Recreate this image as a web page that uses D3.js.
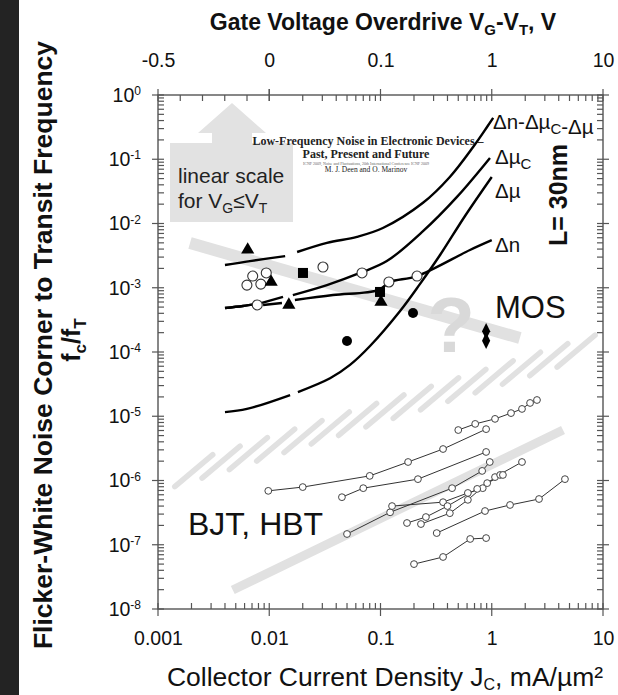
<!DOCTYPE html>
<html>
<head>
<meta charset="utf-8">
<script src="https://cdn.jsdelivr.net/npm/d3@7"></script>
<style>
body { margin: 0; background: #fff; }
svg { display: block; font-family: "Liberation Sans", Arial, sans-serif; }
</style>
</head>
<body>
<div class="chart"></div>
<script>
// ---- data ----
const xTicks = [0.001, 0.01, 0.1, 1, 10];
const xTickLabels = ['0.001', '0.01', '0.1', '1', '10'];
const yExps = [0, -1, -2, -3, -4, -5, -6, -7, -8];
const topTicks = [-0.5, 0, 0.1, 1, 10];
const topTickLabels = ['-0.5', '0', '0.1', '1', '10'];
const topLinTicks = [-0.5, -0.4, -0.3, -0.2, -0.1, 0];

// MOS model curves, each one a list of drawn pieces
const curveAll = [
  [[0.0040, 2.26e-3], [0.0067, 2.6e-3], [0.0139, 3.1e-3]],
  [[0.0178, 3.6e-3], [0.033, 5.0e-3], [0.0615, 6.2e-3], [0.105, 8.5e-3], [0.241, 0.021], [0.42, 0.053], [0.68, 0.155], [0.91, 0.32], [1.03, 0.44]]
];
const curveMuC = [
  [[0.0040, 4.84e-4], [0.0058, 5.2e-4], [0.0078, 5.6e-4]],
  [[0.0086, 5.8e-4], [0.0133, 7.2e-4]],
  [[0.0163, 7.7e-4], [0.033, 1.1e-3], [0.0654, 1.7e-3], [0.114, 2.6e-3], [0.241, 7.6e-3], [0.487, 0.026], [0.964, 0.105]]
];
const curveMu = [
  [[0.0040, 1.16e-5], [0.0063, 1.3e-5], [0.0154, 2.14e-5]],
  [[0.0181, 2.38e-5], [0.0352, 3.9e-5], [0.0532, 6.3e-5], [0.0805, 1.24e-4], [0.150, 4.35e-4], [0.226, 1.14e-3], [0.343, 3.23e-3], [0.575, 0.0131], [1.0, 0.053]]
];
const curveN = [
  [[0.0040, 4.84e-4], [0.0058, 5.2e-4], [0.0078, 5.6e-4]],
  [[0.0088, 5.4e-4], [0.013, 5.8e-4]],
  [[0.017, 6.45e-4], [0.0374, 7.7e-4], [0.095, 9.2e-4], [0.122, 1.23e-3], [0.213, 1.52e-3], [0.637, 3.87e-3], [1.0, 5.5e-3]]
];

// MOS measured points
const mosTriangles = [[0.0064, 3.9e-3], [0.0104, 1.23e-3], [0.0150, 5.4e-4], [0.101, 6.0e-4]];
const mosSquares = [[0.0201, 1.7e-3], [0.099, 8.6e-4]];
const mosOpen = [[0.0063, 1.10e-3], [0.0071, 1.52e-3], [0.0084, 1.14e-3], [0.0094, 1.70e-3], [0.0078, 5.4e-4],
  [0.0304, 2.1e-3], [0.0682, 1.7e-3], [0.119, 1.23e-3], [0.213, 1.52e-3]];
const mosDots = [[0.050, 1.48e-4], [0.196, 4.05e-4]];
const mosDiamonds = [[0.89, 2.1e-4], [0.89, 1.5e-4]];

// BJT / HBT series
const bjtSeries = [
  [[0.50, 6.1e-6], [0.71, 7.6e-6], [1.07, 9.1e-6], [1.49, 1.12e-5], [1.87, 1.3e-5], [2.21, 1.61e-5], [2.55, 1.79e-5]],
  [[0.0098, 6.9e-7], [0.020, 7.9e-7], [0.080, 1.18e-6], [0.177, 1.94e-6], [0.365, 3.09e-6], [0.89, 6.3e-6]],
  [[0.045, 5.5e-7], [0.070, 7.6e-7], [0.217, 1.05e-6], [0.89, 2.78e-6]],
  [[0.050, 1.47e-7], [0.122, 3.2e-7], [0.44, 7.6e-7], [0.82, 1.41e-6], [0.96, 1.94e-6]],
  [[0.127, 4.0e-7], [0.365, 4.6e-7], [0.61, 6.4e-7], [0.83, 7.6e-7], [1.07, 1.13e-6], [1.87, 1.94e-6]],
  [[0.173, 2.18e-7], [0.256, 2.7e-7], [0.40, 4.0e-7], [0.74, 7.4e-7], [1.19, 1.22e-6]],
  [[0.231, 2.1e-7], [0.42, 3.1e-7], [0.61, 5.0e-7], [0.91, 9.1e-7], [1.26, 1.22e-6]],
  [[0.32, 1.52e-7], [0.87, 3.35e-7], [1.46, 4.16e-7], [2.66, 5.15e-7], [4.55, 1.05e-6]],
  [[0.20, 5.0e-8], [0.365, 6.45e-8], [0.64, 1.23e-7], [0.89, 1.27e-7]]
];

// grey guide bands (end points)
const mosBand = [[0.00194, 4.97e-3], [1.79, 1.65e-4]];
const bjtBand = [[0.0047, 1.98e-8], [4.37, 6.1e-6]];
const hatchBand = [[0.00158, 1.22e-6], [7.6, 1.2e-4]];

// ---- setup ----
const width = 618, height = 695;
const svg = d3.select('.chart').append('svg')
  .attr('width', width)
  .attr('height', height);

svg.append('rect').attr('width', width).attr('height', height).attr('fill', '#fff');
svg.append('rect').attr('width', 19).attr('height', height).attr('fill', '#232323');

const x = d3.scaleLog().domain([0.001, 10]).range([158, 603]);
const y = d3.scaleLog().domain([1e-8, 1]).range([609, 95]);

// top axis: linear below threshold, log above (0 sits where 0.01 is)
const topLin = d3.scaleLinear().domain([-0.5, 0]).range([x(0.001), x(0.01)]);
function topScale(v) { return v <= 0 ? topLin(v) : x(v); }
topScale.copy = () => topScale;
topScale.range = () => x.range();
topScale.domain = () => [-0.5, 10];

const isMajor = d => Math.abs(Math.log10(d) - Math.round(Math.log10(d))) < 1e-6;
const grey = '#e1e1e1';

// ---- grey decorations ----
const band = (pts, w) => svg.append('line')
  .attr('x1', x(pts[0][0])).attr('y1', y(pts[0][1]))
  .attr('x2', x(pts[1][0])).attr('y2', y(pts[1][1]))
  .attr('stroke', grey).attr('stroke-width', w);

band(mosBand, 12);
band(bjtBand, 9);

// hatched band
const hx0 = x(hatchBand[0][0]), hy0 = y(hatchBand[0][1]);
const hx1 = x(hatchBand[1][0]), hy1 = y(hatchBand[1][1]);
const nStripes = 15;
for (let i = 0; i < nStripes; i++) {
  const t = (i + 0.5) / nStripes;
  const cx = hx0 + t * (hx1 - hx0), cy = hy0 + t * (hy1 - hy0);
  svg.append('line')
    .attr('x1', cx - 19).attr('y1', cy + 16)
    .attr('x2', cx + 19).attr('y2', cy - 16)
    .attr('stroke', grey).attr('stroke-width', 5.5)
    .attr('stroke-linecap', 'round');
}

// question mark on the MOS band
svg.append('text')
  .attr('x', 451).attr('y', 352)
  .attr('text-anchor', 'middle')
  .attr('font-size', 78).attr('font-weight', 'bold')
  .attr('fill', '#d9d9d9')
  .text('?');

// arrow with "linear scale" note
svg.append('path')
  .attr('d', 'M232,103 L266,133 L252,133 L252,143 L293,143 L293,222 L170,222 L170,143 L212,143 L212,133 L198,133 Z')
  .attr('fill', '#e2e2e2');

svg.append('text').attr('x', 178).attr('y', 183)
  .attr('font-size', 21).attr('fill', '#222').text('linear scale');
const ls = svg.append('text').attr('x', 178).attr('y', 208)
  .attr('font-size', 21).attr('fill', '#222');
ls.append('tspan').text('for V');
ls.append('tspan').attr('dy', 5).attr('font-size', 14).text('G');
ls.append('tspan').attr('dy', -5).text('\u2264V');
ls.append('tspan').attr('dy', 5).attr('font-size', 14).text('T');

// paper citation inset
const cite = svg.append('g').attr('font-family', '"Liberation Serif", "Times New Roman", serif')
  .attr('text-anchor', 'middle').attr('fill', '#222');
cite.append('text').attr('x', 368).attr('y', 145).attr('font-size', 12).attr('font-weight', 'bold')
  .text('Low-Frequency Noise in Electronic Devices \u2013');
cite.append('text').attr('x', 366).attr('y', 158).attr('font-size', 12).attr('font-weight', 'bold')
  .text('Past, Present and Future');
cite.append('text').attr('x', 366).attr('y', 165).attr('font-size', 4).attr('fill', '#666')
  .text('ICNF 2009, Noise and Fluctuations, 20th International Conference ICNF 2009');
cite.append('text').attr('x', 366).attr('y', 172).attr('font-size', 7.5)
  .text('M. J. Deen and O. Marinov');

// ---- frame and ticks ----
svg.append('rect')
  .attr('x', x(0.001)).attr('y', y(1))
  .attr('width', x(10) - x(0.001)).attr('height', y(1e-8) - y(1))
  .attr('fill', 'none').attr('stroke', '#555').attr('stroke-width', 1.4);

const tk = svg.append('g').attr('stroke', '#555').attr('stroke-width', 1.2);
const x0 = x(0.001), x1 = x(10), yT = y(1), yB = y(1e-8);

x.ticks().forEach(d => {
  const m = isMajor(d), px = x(d);
  tk.append('line').attr('x1', px).attr('x2', px).attr('y1', yB - 6).attr('y2', m ? yB + 7 : yB);
  if (d >= 0.01) {
    tk.append('line').attr('x1', px).attr('x2', px).attr('y1', m ? yT - 6 : yT).attr('y2', yT + 6);
  }
});
topLinTicks.forEach(d => {
  const px = topScale(d), m = (d === -0.5 || d === 0);
  tk.append('line').attr('x1', px).attr('x2', px).attr('y1', m ? yT - 6 : yT).attr('y2', yT + 6);
});
y.ticks().forEach(d => {
  const m = isMajor(d), py = y(d);
  tk.append('line').attr('y1', py).attr('y2', py).attr('x1', m ? x0 - 6 : x0).attr('x2', x0 + 6);
  tk.append('line').attr('y1', py).attr('y2', py).attr('x1', x1 - 6).attr('x2', m ? x1 + 6 : x1);
});

// ---- axis labels ----
const styleAxis = g => {
  g.select('.domain').remove();
  g.attr('font-size', 19.5).attr('font-family', '"Liberation Sans", Arial, sans-serif');
  g.selectAll('text').attr('fill', '#111');
};

svg.append('g').attr('transform', `translate(0,${yB})`)
  .call(d3.axisBottom(x).tickValues(xTicks).tickFormat((d, i) => xTickLabels[i]).tickSize(0).tickPadding(22))
  .call(styleAxis);

svg.append('g').attr('transform', `translate(0,${yT})`)
  .call(d3.axisTop(topScale).tickValues(topTicks).tickFormat((d, i) => topTickLabels[i]).tickSize(0).tickPadding(28))
  .call(styleAxis);

svg.append('g').attr('transform', `translate(${x0},0)`)
  .call(d3.axisLeft(y).tickValues(yExps.map(e => Math.pow(10, e))).tickFormat(() => '').tickSize(0).tickPadding(17))
  .call(styleAxis)
  .selectAll('.tick text')
  .each(function (d, i) {
    const t = d3.select(this);
    t.append('tspan').text('10');
    t.append('tspan').attr('dy', '-0.55em').attr('font-size', 12).text(yExps[i]);
  });

// axis titles
const tt = svg.append('text').attr('x', 383).attr('y', 30)
  .attr('text-anchor', 'middle').attr('font-size', 23).attr('font-weight', 'bold').attr('fill', '#111');
tt.append('tspan').text('Gate Voltage Overdrive V');
tt.append('tspan').attr('dy', 5).attr('font-size', 15).text('G');
tt.append('tspan').attr('dy', -5).text('-V');
tt.append('tspan').attr('dy', 5).attr('font-size', 15).text('T');
tt.append('tspan').attr('dy', -5).text(', V');

const bt = svg.append('text').attr('x', 385).attr('y', 686)
  .attr('text-anchor', 'middle').attr('font-size', 26.5).attr('fill', '#111');
bt.append('tspan').text('Collector Current Density J');
bt.append('tspan').attr('dy', 4).attr('font-size', 16).text('C');
bt.append('tspan').attr('dy', -4).text(', mA/\u00b5m\u00b2');

svg.append('text')
  .attr('transform', 'translate(52,345) rotate(-90)')
  .attr('text-anchor', 'middle').attr('font-size', 26.5).attr('font-weight', 'bold').attr('fill', '#111')
  .text('Flicker-White Noise Corner to Transit Frequency');
const yl2 = svg.append('text')
  .attr('transform', 'translate(80,340) rotate(-90)')
  .attr('text-anchor', 'middle').attr('font-size', 25).attr('font-weight', 'bold').attr('fill', '#111');
yl2.append('tspan').text('f');
yl2.append('tspan').attr('dy', 6).attr('font-size', 17).text('c');
yl2.append('tspan').attr('dy', -6).text('/f');
yl2.append('tspan').attr('dy', 6).attr('font-size', 17).text('T');

// ---- BJT data ----
const thin = d3.line().x(d => x(d[0])).y(d => y(d[1]));
bjtSeries.forEach(s => {
  svg.append('path').attr('d', thin(s))
    .attr('fill', 'none').attr('stroke', '#333').attr('stroke-width', 1);
});
bjtSeries.forEach(s => {
  svg.append('g').selectAll('circle').data(s).join('circle')
    .attr('cx', d => x(d[0])).attr('cy', d => y(d[1])).attr('r', 3.4)
    .attr('fill', '#fff').attr('stroke', '#444').attr('stroke-width', 1);
});

// ---- MOS curves ----
const smooth = d3.line().x(d => x(d[0])).y(d => y(d[1])).curve(d3.curveCatmullRom.alpha(0.5));
[curveAll, curveMuC, curveMu, curveN].forEach(c => {
  c.forEach(seg => {
    svg.append('path').attr('d', smooth(seg))
      .attr('fill', 'none').attr('stroke', '#000').attr('stroke-width', 2.4);
  });
});

// ---- MOS points ----
svg.append('g').selectAll('circle').data(mosOpen).join('circle')
  .attr('cx', d => x(d[0])).attr('cy', d => y(d[1])).attr('r', 5)
  .attr('fill', '#fff').attr('stroke', '#333').attr('stroke-width', 1.1);
svg.append('g').selectAll('circle').data(mosDots).join('circle')
  .attr('cx', d => x(d[0])).attr('cy', d => y(d[1])).attr('r', 5).attr('fill', '#000');
svg.append('g').selectAll('path').data(mosTriangles).join('path')
  .attr('transform', d => `translate(${x(d[0])},${y(d[1])})`)
  .attr('d', d3.symbol(d3.symbolTriangle, 75)).attr('fill', '#000');
svg.append('g').selectAll('rect').data(mosSquares).join('rect')
  .attr('x', d => x(d[0]) - 5).attr('y', d => y(d[1]) - 5)
  .attr('width', 10).attr('height', 10).attr('fill', '#000');
svg.append('g').selectAll('path').data(mosDiamonds).join('path')
  .attr('transform', d => `translate(${x(d[0])},${y(d[1])}) scale(0.85,1)`)
  .attr('d', d3.symbol(d3.symbolDiamond, 80)).attr('fill', '#000');

// ---- curve labels and region names ----
const lab = (px, py, parts) => {
  const t = svg.append('text').attr('x', px).attr('y', py).attr('font-size', 20.5).attr('fill', '#111');
  parts.forEach(p => {
    if (typeof p === 'string') {
      t.append('tspan').text(p);
    } else {
      t.append('tspan').attr('dy', 5).attr('font-size', 15).text(p.sub);
      t.append('tspan').attr('dy', -5).text('');
    }
  });
};
lab(493, 129, ['\u0394n-\u0394\u00b5', { sub: 'C' }, '-\u0394\u00b5']);
lab(495, 164, ['\u0394\u00b5', { sub: 'C' }]);
lab(495, 198, ['\u0394\u00b5']);
lab(495, 252, ['\u0394n']);

svg.append('text')
  .attr('transform', 'translate(567,195) rotate(-90)')
  .attr('text-anchor', 'middle').attr('font-size', 25).attr('font-weight', 'bold').attr('fill', '#111')
  .text('L= 30nm');

svg.append('text').attr('x', 495).attr('y', 318)
  .attr('font-size', 31).attr('fill', '#111').text('MOS');
svg.append('text').attr('x', 188).attr('y', 535)
  .attr('font-size', 32).attr('fill', '#111').text('BJT, HBT');
</script>
</body>
</html>
